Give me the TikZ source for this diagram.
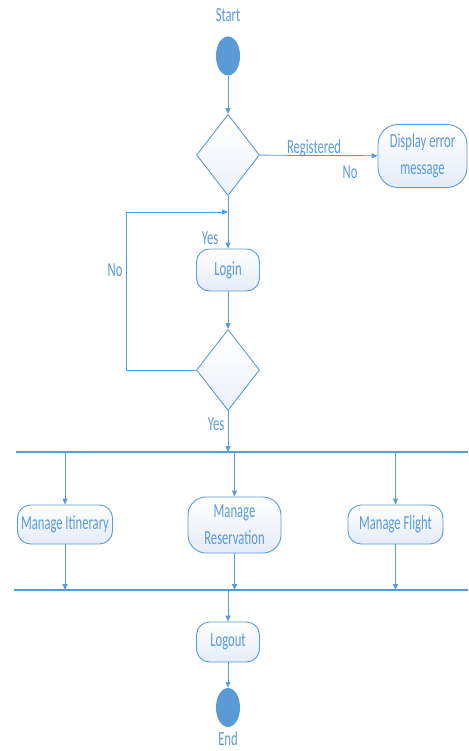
\documentclass[tikz,border=0pt]{standalone}
\usepackage{fontspec}
\setmainfont{Carlito}[FakeStretch=0.63]
\usetikzlibrary{shapes.geometric,arrows.meta}
\definecolor{flowblue}{HTML}{5B9BD5}
\definecolor{flowfill}{HTML}{E4ECF7}

\begin{document}
\begin{tikzpicture}[x=1pt,y=-1pt,
  every node/.style={font=\fontsize{20}{27}\selectfont, text=flowblue},
  act/.style={draw=flowblue, rounded corners=13pt, top color=white,
    bottom color=flowfill, minimum width=63pt, minimum height=42pt,
    align=center, inner sep=1pt, line width=0.9pt},
  decision/.style={diamond, draw=flowblue, top color=white,
    bottom color=flowfill!70, minimum width=63pt, minimum height=81pt,
    inner sep=0pt, line width=0.9pt},
  terminal/.style={ellipse, fill=flowblue, minimum width=24pt,
    minimum height=39pt, inner sep=0pt},
  bar/.style={draw=flowblue, line width=1.2pt},
  flow/.style={draw=flowblue, line width=0.9pt, -{Triangle[length=6pt,width=5pt]}},
  lbl/.style={inner sep=0pt}]
\useasboundingbox (0,0) rectangle (468,751);
% top part: start, registration check, login loop
\node[lbl] (startlbl) at (228,15) {Start};
\node[terminal] (start) at (228,56) {};
\node[decision] (reg) at (228,155) {};
\node[act, minimum width=89pt, minimum height=63pt, rounded corners=20pt]
  (err) at (422.5,156) {Display error\\message};
\node[act] (login) at (228,270) {Login};
\node[decision] (valid) at (228,370) {};
\coordinate (merge) at (228,212);
\coordinate (loopup) at (126,212);
\coordinate (loopdown) at (126,370);
\node[lbl] (reglbl) at (314,148) {Registered};
\node[lbl] (nolbl) at (350,172) {No};
\node[lbl] (yeslbl) at (210,238) {Yes};
\node[lbl] (loopno) at (115,270) {No};
\node[lbl] (yesfork) at (216,424) {Yes};
% fork and join bars
\coordinate (forkL) at (16,452);
\coordinate (forkR) at (468,452);
\coordinate (joinL) at (14,590);
\coordinate (joinR) at (468,590);
\coordinate (forkin) at (228,452);
\coordinate (joinout) at (228,590);
\node[act, minimum width=95pt, minimum height=39pt] (itin) at (65,524.5) {Manage Itinerary};
\node[act, minimum width=93pt, minimum height=56pt, rounded corners=18pt]
  (resv) at (234.5,525) {Manage\\Reservation};
\node[act, minimum width=95pt, minimum height=39pt] (flight) at (395.5,524.5) {Manage Flight};
% bottom part
\node[act, minimum height=40pt] (logout) at (228,642) {Logout};
\node[terminal] (end) at (228,707.5) {};
\node[lbl] (endlbl) at (228,739) {End};

\draw[flow] (start) -- (reg);
\draw[flow] (reg) -- (err);
\draw[flow] (reg) -- (login);
\draw[flow] (valid.west) -- (loopdown) -- (loopup) -- (merge);
\draw[flow] (login) -- (valid);
\draw[flow] (valid) -- (forkin);
\draw[bar] (forkL) -- (forkR);
\draw[bar] (joinL) -- (joinR);
\foreach \act/\xx in {itin/65, resv/234.5, flight/395.5} {
  \draw[flow] (\xx,452) -- (\act);
  \draw[flow] (\act) -- (\xx,590);}
\draw[flow] (joinout) -- (logout);
\draw[flow] (logout) -- (end);
\end{tikzpicture}
\end{document}
